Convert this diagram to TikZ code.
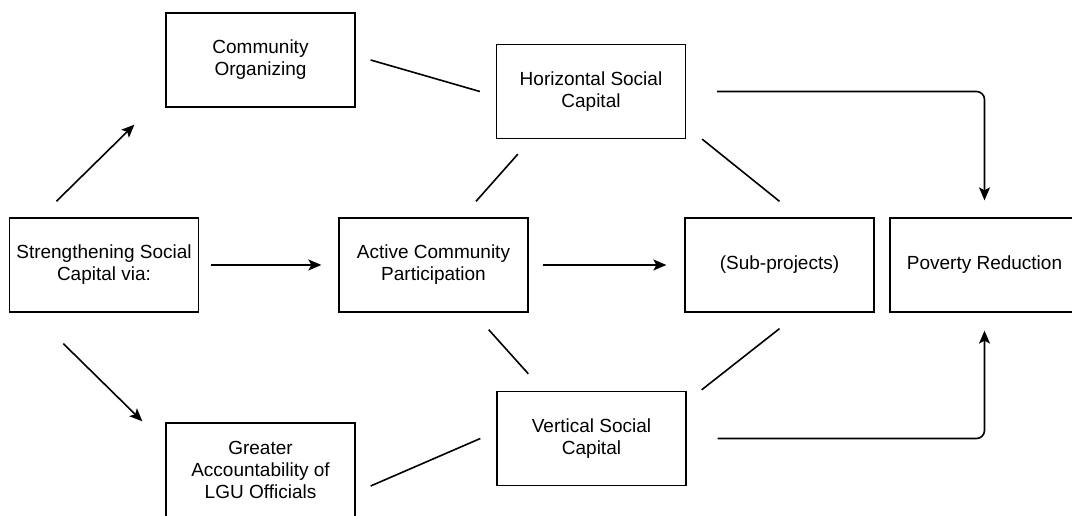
\documentclass[tikz,border=0pt]{standalone}
\usepackage{fontspec}
\setmainfont{Liberation Sans}
\usetikzlibrary{arrows.meta}

\tikzset{
	box/.style={draw, line width=1.3pt, minimum width=189pt, minimum height=94pt, inner sep=2pt, align=center, font=\fontsize{19}{22}\selectfont},
	link/.style={line width=1.6pt},
	arrow/.style={link, -{Stealth[length=13pt, width=11pt, inset=3pt]}}
}

\begin{document}
\begin{tikzpicture}[x=1pt, y=1pt]
	\useasboundingbox (0,0) rectangle (1072,516);
	\draw (260.5,456) node[box](co) {Community \\ Organizing};
	\draw (591,424.5) node[box](hsc) {Horizontal Social \\ Capital};
	\draw (104,251) node[box](ssc) {Strengthening Social \\ Capital via:};
	\draw (433.5,251) node[box](acp) {Active Community \\ Participation};
	\draw (779.5,251) node[box](sub) {(Sub-projects)};
	\draw (984.5,251) node[box](pov) {Poverty Reduction};
	\draw (591.5,77.5) node[box](vsc) {Vertical Social \\ Capital};
	\draw (260.5,46) node[box](glo) {Greater \\ Accountability of \\ LGU Officials};
	% arrows out of the left box
	\draw[arrow] ([shift={(47.5,16)}]ssc.north west) -- ([shift={(-31,-17)}]co.south west);
	\draw[arrow] ([shift={(54.5,-31)}]ssc.south west) -- ([shift={(-23,1)}]glo.north west);
	\draw[arrow] ([xshift=11.5]ssc.east) -- ([xshift=-17]acp.west);
	\draw[arrow] ([xshift=14]acp.east) -- ([xshift=-18]sub.west);
	% plain lines
	\draw[link] ([xshift=15]co.east) -- ([xshift=-16]hsc.west);
	\draw[link] ([shift={(22,-15)}]hsc.south west) -- ([shift={(42.5,16)}]acp.north);
	\draw[link] ([xshift=16]hsc.south east) -- ([yshift=16]sub.north);
	\draw[link] ([shift={(-40,-17)}]acp.south east) -- ([shift={(32,17)}]vsc.north west);
	\draw[link] ([yshift=-16]sub.south) -- ([shift={(15,1)}]vsc.north east);
	\draw[link] ([shift={(15,-16)}]glo.east) -- ([xshift=-16]vsc.west);
	% into poverty reduction
	\draw[arrow, rounded corners=8pt] ([xshift=31]hsc.east) -| ([yshift=17]pov.north);
	\draw[arrow, rounded corners=8pt] ([xshift=31]vsc.east) -| ([yshift=-18]pov.south);
\end{tikzpicture}
\end{document}
